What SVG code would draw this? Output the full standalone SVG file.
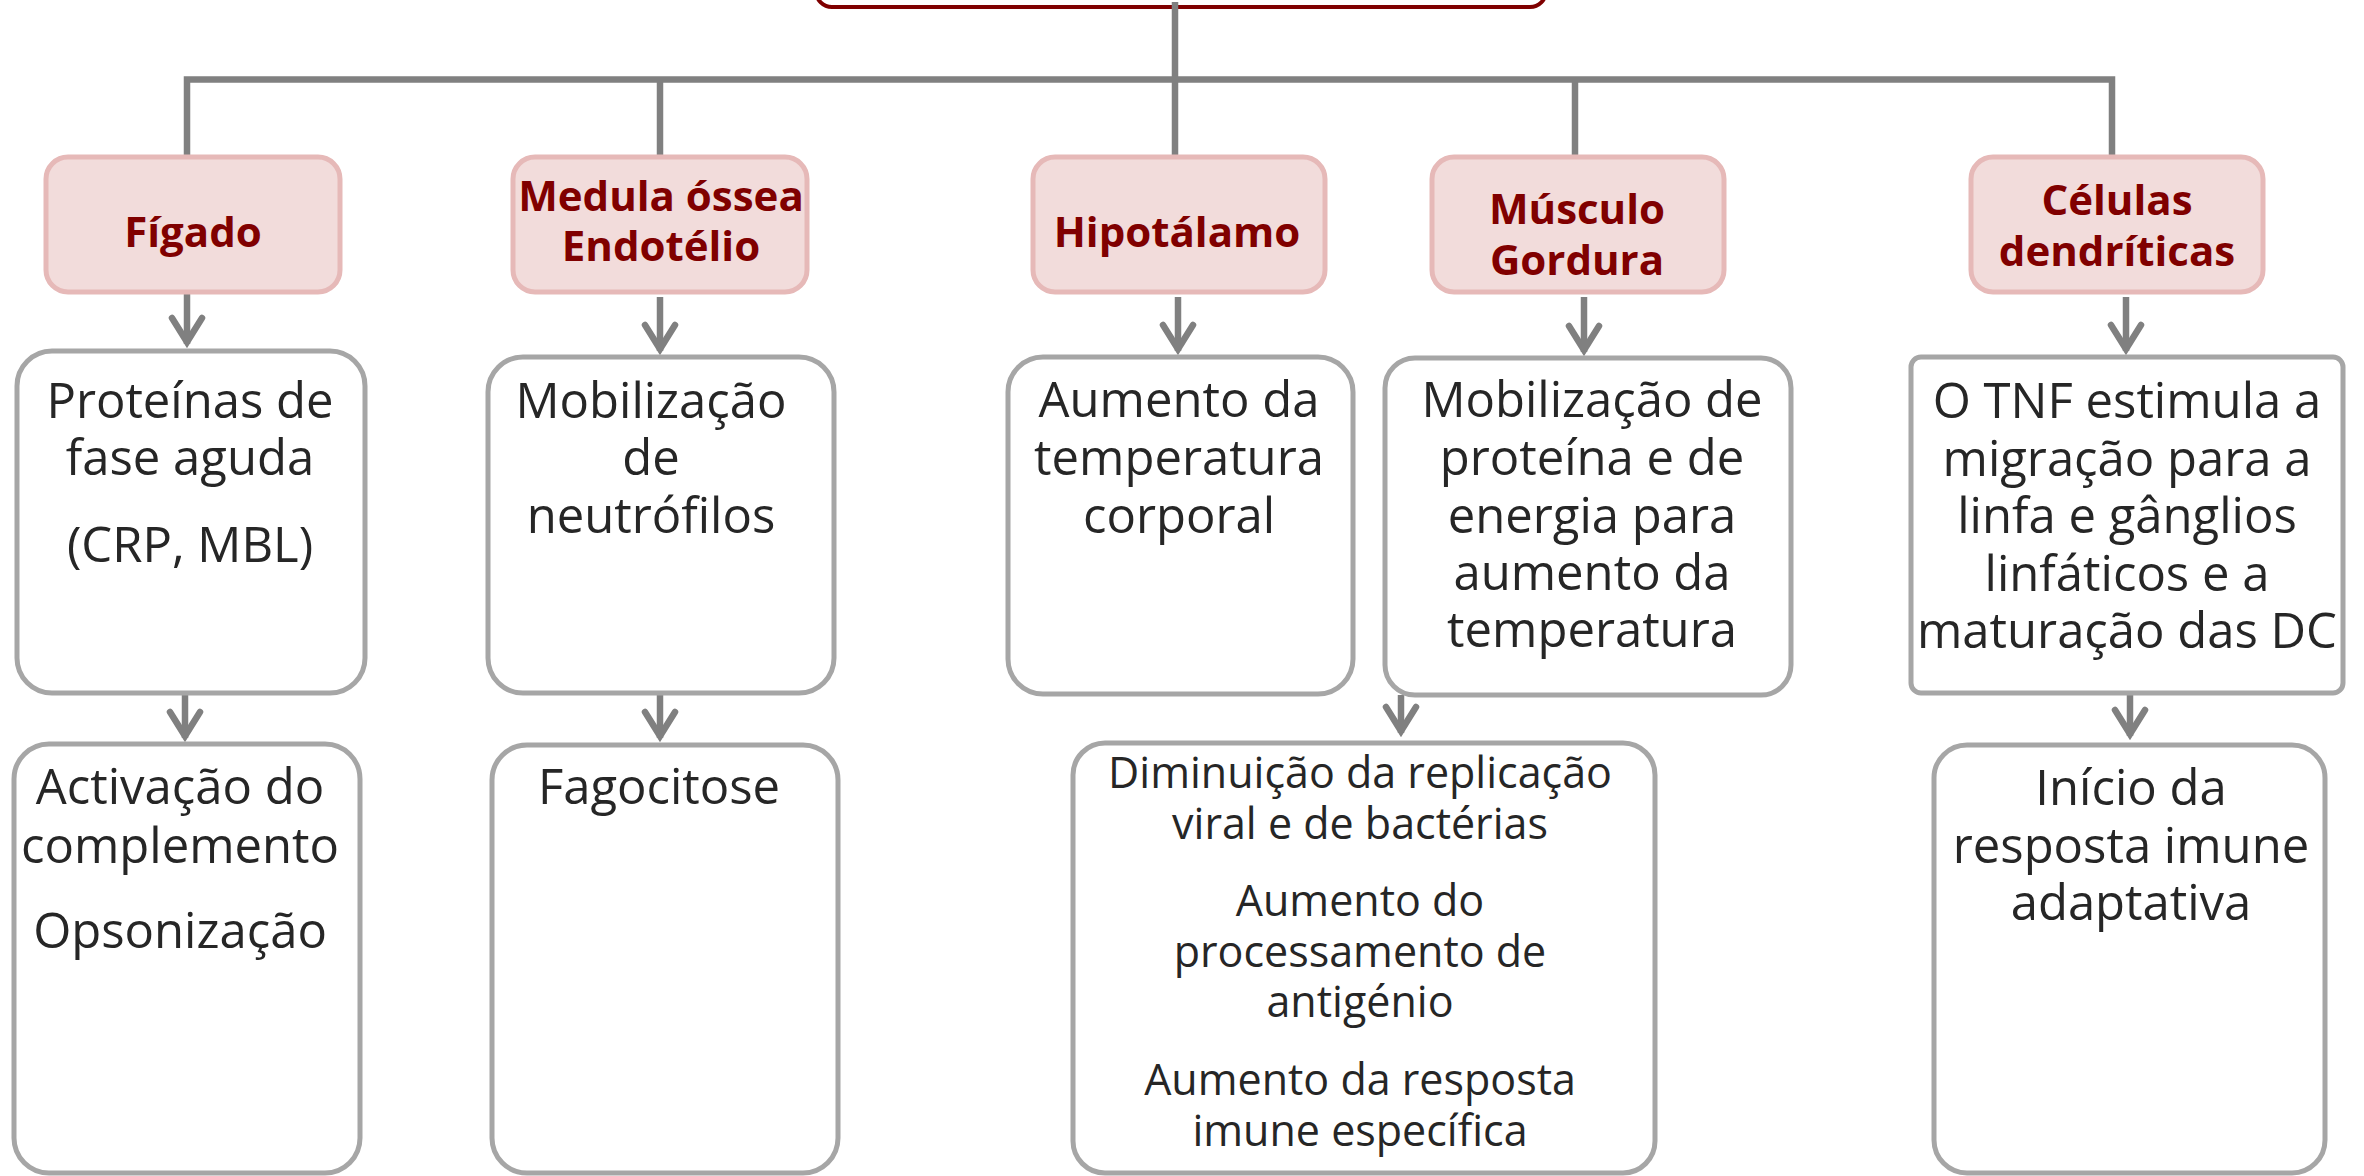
<svg xmlns="http://www.w3.org/2000/svg" xmlns:xlink="http://www.w3.org/1999/xlink" width="2364" height="1176" viewBox="0 0 2364 1176">
<style>
.hdr{fill:#f2dcdb;stroke:#e6b9b8;stroke-width:5}
.box{fill:#ffffff;stroke:#a6a6a6;stroke-width:5}
.top{fill:#ffffff;stroke:#7f0000;stroke-width:4}
.ht{font-family:"Open Sans","Noto Sans",sans-serif;font-weight:bold;font-size:42px;fill:#800000;text-anchor:middle}
.bt{font-family:"Open Sans","Noto Sans",sans-serif;font-size:49px;fill:#262626;text-anchor:middle}
.st{font-family:"Open Sans","Noto Sans",sans-serif;font-size:43px;fill:#262626;text-anchor:middle}
.ln{fill:none;stroke:#808080;stroke-width:6.5}
.ah{fill:none;stroke:#808080;stroke-width:6.5;stroke-linejoin:miter;stroke-linecap:round}
</style>
<defs>
<path id="arr" class="ah" d="M-15,-30 L0,-6 L15,-30"/>
</defs>
<rect width="2364" height="1176" fill="#ffffff"/>

<g id="root">
<rect class="top" x="816" y="-60" width="730" height="67" rx="16"/>
</g>

<g id="connectors">
<path class="ln" d="M187,155 V79.5 H2112 V155"/>
<path class="ln" d="M660,79.5 V155"/>
<path class="ln" d="M1575,79.5 V155"/>
<path class="ln" d="M1175,2 V155"/>
<path class="ln" d="M187,293 V344"/>
<use xlink:href="#arr" x="187" y="348"/>
<path class="ln" d="M660,297 V351"/>
<use xlink:href="#arr" x="660" y="355"/>
<path class="ln" d="M1178,297 V351"/>
<use xlink:href="#arr" x="1178" y="355"/>
<path class="ln" d="M1584,297 V352"/>
<use xlink:href="#arr" x="1584" y="356"/>
<path class="ln" d="M2126,297 V351"/>
<use xlink:href="#arr" x="2126" y="355"/>
<path class="ln" d="M185,693 V738"/>
<use xlink:href="#arr" x="185" y="742"/>
<path class="ln" d="M660,693 V738"/>
<use xlink:href="#arr" x="660" y="742"/>
<path class="ln" d="M1401,695 V733"/>
<use xlink:href="#arr" x="1401" y="737"/>
<path class="ln" d="M2130,693 V736"/>
<use xlink:href="#arr" x="2130" y="740"/>
</g>

<g id="figado">
<rect class="hdr" x="46" y="157" width="294" height="135" rx="22"/>
<text class="ht" x="193" y="247">Fígado</text>
</g>
<g id="medula">
<rect class="hdr" x="513" y="157" width="294" height="135" rx="22"/>
<text class="ht" x="661" y="211">Medula óssea</text>
<text class="ht" x="661" y="261">Endotélio</text>
</g>
<g id="hipotalamo">
<rect class="hdr" x="1033" y="157" width="292" height="135" rx="22"/>
<text class="ht" x="1177" y="247">Hipotálamo</text>
</g>
<g id="musculo">
<rect class="hdr" x="1432" y="157" width="292" height="135" rx="22"/>
<text class="ht" x="1577" y="224">Músculo</text>
<text class="ht" x="1577" y="275">Gordura</text>
</g>
<g id="celulas">
<rect class="hdr" x="1971" y="157" width="292" height="135" rx="22"/>
<text class="ht" x="2117" y="215">Células</text>
<text class="ht" x="2117" y="266">dendríticas</text>
</g>

<g id="proteinas">
<rect class="box" x="17" y="351" width="348" height="342" rx="35"/>
<text class="bt" x="190" y="418">Proteínas de</text>
<text class="bt" x="190" y="475">fase aguda</text>
<text class="bt" x="190" y="562">(CRP, MBL)</text>
</g>
<g id="mobilizacao-neutrofilos">
<rect class="box" x="488" y="357" width="346" height="336" rx="35"/>
<text class="bt" x="651" y="418">Mobilização</text>
<text class="bt" x="651" y="475">de</text>
<text class="bt" x="651" y="533">neutrófilos</text>
</g>
<g id="aumento-temperatura">
<rect class="box" x="1008" y="357" width="345" height="337" rx="35"/>
<text class="bt" x="1179" y="417">Aumento da</text>
<text class="bt" x="1179" y="475">temperatura</text>
<text class="bt" x="1179" y="533">corporal</text>
</g>
<g id="mobilizacao-proteina">
<rect class="box" x="1385" y="358" width="406" height="337" rx="30"/>
<text class="bt" x="1592" y="417">Mobilização de</text>
<text class="bt" x="1592" y="475">proteína e de</text>
<text class="bt" x="1592" y="533">energia para</text>
<text class="bt" x="1592" y="590">aumento da</text>
<text class="bt" x="1592" y="647">temperatura</text>
</g>
<g id="tnf">
<rect class="box" x="1911" y="357" width="432" height="336" rx="10"/>
<text class="bt" x="2127" y="418">O TNF estimula a</text>
<text class="bt" x="2127" y="476">migração para a</text>
<text class="bt" x="2127" y="533">linfa e gânglios</text>
<text class="bt" x="2127" y="591">linfáticos e a</text>
<text class="bt" x="2127" y="648">maturação das DC</text>
</g>

<g id="activacao">
<rect class="box" x="14" y="744" width="346" height="429" rx="35"/>
<text class="bt" x="180" y="804">Activação do</text>
<text class="bt" x="180" y="863">complemento</text>
<text class="bt" x="180" y="948">Opsonização</text>
</g>
<g id="fagocitose">
<rect class="box" x="492" y="745" width="346" height="428" rx="35"/>
<text class="bt" x="659" y="804">Fagocitose</text>
</g>
<g id="diminuicao">
<rect class="box" x="1073" y="743" width="582" height="430" rx="32"/>
<text class="st" x="1360" y="788">Diminuição da replicação</text>
<text class="st" x="1360" y="839">viral e de bactérias</text>
<text class="st" x="1360" y="916">Aumento do</text>
<text class="st" x="1360" y="967">processamento de</text>
<text class="st" x="1360" y="1017">antigénio</text>
<text class="st" x="1360" y="1095">Aumento da resposta</text>
<text class="st" x="1360" y="1146">imune específica</text>
</g>
<g id="inicio">
<rect class="box" x="1934" y="745" width="391" height="428" rx="33"/>
<text class="bt" x="2131" y="805">Início da</text>
<text class="bt" x="2131" y="863">resposta imune</text>
<text class="bt" x="2131" y="920">adaptativa</text>
</g>
</svg>
